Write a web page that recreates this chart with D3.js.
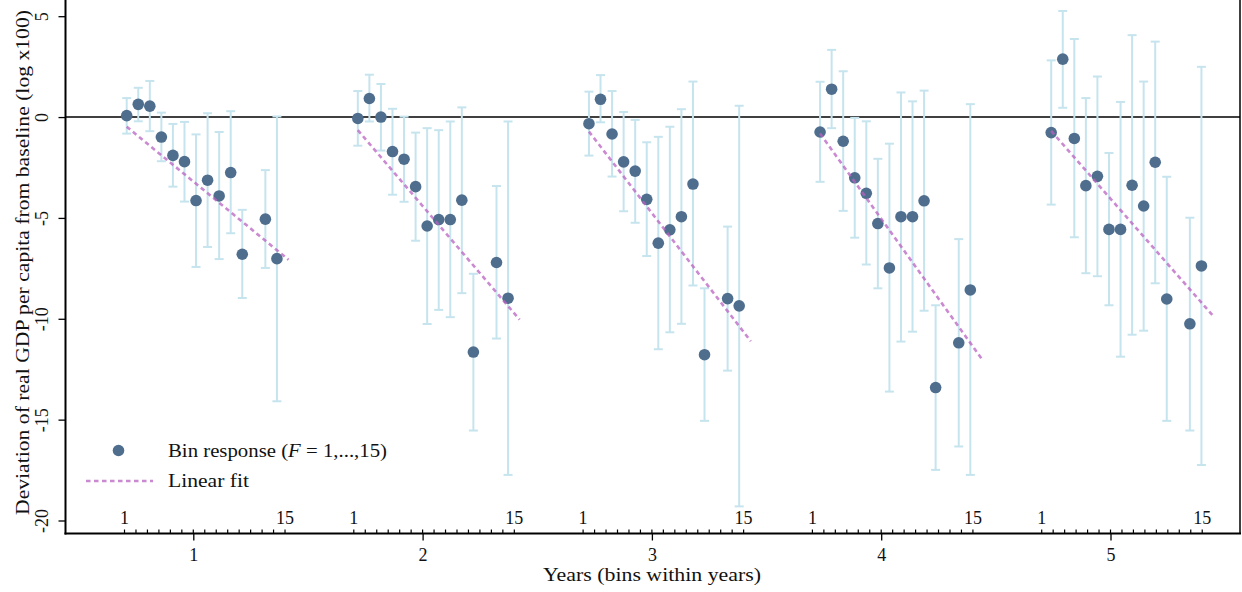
<!DOCTYPE html>
<html>
<head>
<meta charset="utf-8">
<script src="https://cdn.jsdelivr.net/npm/d3@7"></script>
<style>
  html, body { margin: 0; padding: 0; background: #fff; }
  svg { display: block; }
  text { font-family: 'Liberation Serif', 'DejaVu Serif', serif; fill: #111; }
</style>
</head>
<body>
<div id="chart"></div>
<script>
// ---------------- data ----------------
const years = [1, 2, 3, 4, 5];
const yearLabels = ["1", "2", "3", "4", "5"];
const bins = [1, 2, 3, 4, 5, 6, 7, 8, 9, 10, 11, 13, 14];
const binTickBins = d3.range(1, 16);
const binTickLabels = { 1: "1", 15: "15" };
const yTicks = [5, 0, -5, -10, -15, -20];

// point estimates per year (by bin)
const est1 = [0.07, 0.63, 0.54, -0.99, -1.90, -2.21, -4.14, -3.13, -3.91, -2.75, -6.80, -5.06, -7.02];
const est2 = [-0.07, 0.92, 0.00, -1.71, -2.09, -3.45, -5.40, -5.08, -5.08, -4.12, -11.65, -7.21, -8.98];
const est3 = [-0.33, 0.88, -0.84, -2.22, -2.68, -4.08, -6.25, -5.59, -4.94, -3.32, -11.78, -9.00, -9.36];
const est4 = [-0.74, 1.38, -1.20, -3.01, -3.78, -5.28, -7.48, -4.94, -4.94, -4.15, -13.41, -11.19, -8.57];
const est5 = [-0.77, 2.87, -1.06, -3.40, -2.94, -5.57, -5.57, -3.38, -4.41, -2.24, -9.02, -10.25, -7.38];

// upper confidence bounds
const hi1 = [0.94, 1.45, 1.79, 0.22, -0.34, -0.24, -0.86, 0.19, -0.74, 0.29, -4.60, -2.63, 0.03];
const hi2 = [1.29, 2.10, 1.64, 0.41, 0.02, -0.77, -0.55, -0.65, -0.22, 0.48, -7.77, -3.42, -0.22];
const hi3 = [1.26, 2.08, 1.29, 0.25, -0.14, -1.25, -0.98, -0.48, 0.39, 1.76, -8.49, -5.43, 0.56];
const hi4 = [1.75, 3.33, 2.27, -0.04, -0.21, -2.07, -1.32, 1.22, 0.78, 1.31, -9.33, -6.05, 0.64];
const hi5 = [2.81, 5.26, 3.87, 0.94, 2.01, -1.78, 0.75, 4.06, 1.76, 3.74, -2.96, -4.99, 2.49];

// lower confidence bounds
const lo1 = [-0.82, -0.21, -0.70, -2.19, -3.45, -4.19, -7.43, -6.44, -7.04, -5.76, -8.97, -7.48, -14.09];
const lo2 = [-1.42, -0.22, -1.66, -3.85, -4.20, -6.13, -10.26, -9.56, -9.92, -8.73, -15.54, -10.98, -17.74];
const lo3 = [-1.91, -0.26, -2.95, -4.67, -5.24, -6.89, -11.51, -10.67, -10.25, -8.35, -15.06, -12.57, -19.30];
const lo4 = [-3.21, -0.55, -4.65, -5.98, -7.31, -8.49, -13.61, -11.13, -10.64, -9.60, -17.49, -16.33, -17.74];
const lo5 = [-4.34, 0.46, -5.96, -7.74, -7.89, -9.33, -11.88, -10.79, -10.59, -8.24, -15.06, -15.54, -17.25];

// linear fit values at bin 1 and bin 15
const fitStart = [-0.48, -0.65, -0.72, -0.82, -0.69];
const fitEnd = [-7.07, -10.04, -11.11, -12.00, -9.85];

const estimates = [est1, est2, est3, est4, est5];
const uppers = [hi1, hi2, hi3, hi4, hi5];
const lowers = [lo1, lo2, lo3, lo4, lo5];

// ---------------- layout ----------------
const W = 1242, H = 592;
const plotL = 65.5, plotR = 1240, plotB = 533.5, plotT = 0;
const binsPerYear = 20;
const FS = 18;

const svg = d3.select("#chart").append("svg").attr("width", W).attr("height", H);

const yScale = d3.scaleLinear().domain([-20, 5]).range([520.5, 16.2]);
// position of points along x in "bin units": (year-1)*20 + bin
const xBin = d3.scaleLinear().domain([1, 81]).range([126.7, 1051.2]);
// year axis
const xYear = d3.scaleLinear().domain([1, 5]).range([193.3, 1110.5]);

const pts = [];
years.forEach((yr, gi) => {
  bins.forEach((b, i) => {
    pts.push({ u: (yr - 1) * binsPerYear + b, est: estimates[gi][i], hi: uppers[gi][i], lo: lowers[gi][i] });
  });
});

const ciColor = "#c6e4ee";
const ptColor = "#4f6e8e";
const fitColor = "#b862c0";

// zero line
svg.append("line")
  .attr("x1", plotL).attr("x2", plotR)
  .attr("y1", yScale(0)).attr("y2", yScale(0))
  .attr("stroke", "#000").attr("stroke-width", 1.6);

// CI bars
const ci = svg.append("g").attr("stroke", ciColor).attr("stroke-width", 2).attr("fill", "none");
ci.selectAll("line.v").data(pts).join("line").attr("class", "v")
  .attr("x1", d => xBin(d.u)).attr("x2", d => xBin(d.u))
  .attr("y1", d => yScale(d.hi)).attr("y2", d => yScale(d.lo));
ci.selectAll("line.ct").data(pts).join("line").attr("class", "ct")
  .attr("x1", d => xBin(d.u) - 4.5).attr("x2", d => xBin(d.u) + 4.5)
  .attr("y1", d => yScale(d.hi)).attr("y2", d => yScale(d.hi));
ci.selectAll("line.cb").data(pts).join("line").attr("class", "cb")
  .attr("x1", d => xBin(d.u) - 4.5).attr("x2", d => xBin(d.u) + 4.5)
  .attr("y1", d => yScale(d.lo)).attr("y2", d => yScale(d.lo));

// points
svg.append("g").selectAll("circle").data(pts).join("circle")
  .attr("cx", d => xBin(d.u)).attr("cy", d => yScale(d.est))
  .attr("r", 5.8).attr("fill", ptColor);

// linear fits (drawn on top, semi-transparent)
const fits = years.map((yr, gi) => ({
  x1: (yr - 1) * binsPerYear + 1, x2: (yr - 1) * binsPerYear + 15,
  y1: fitStart[gi], y2: fitEnd[gi]
}));
svg.append("g").selectAll("line").data(fits).join("line")
  .attr("x1", d => xBin(d.x1)).attr("x2", d => xBin(d.x2))
  .attr("y1", d => yScale(d.y1)).attr("y2", d => yScale(d.y2))
  .attr("stroke", fitColor).attr("stroke-opacity", 0.75)
  .attr("stroke-width", 2.6).attr("stroke-dasharray", "4.5,3.5");

// y axis
const yAxis = svg.append("g").attr("transform", `translate(${plotL},0)`)
  .call(d3.axisLeft(yScale).tickValues(yTicks).tickSize(7).tickFormat(d => String(d)));
yAxis.select(".domain").remove();
yAxis.selectAll(".tick line").attr("stroke", "#000").attr("stroke-width", 1.3);
yAxis.selectAll(".tick text")
  .attr("transform", "rotate(-90)")
  .attr("x", 0).attr("y", -17.5).attr("dy", 0)
  .attr("text-anchor", "middle")
  .style("font-family", "'Liberation Serif', serif")
  .style("font-size", FS + "px").attr("fill", "#111");

// x axis (years)
const xAxis = svg.append("g").attr("transform", `translate(0,${plotB})`)
  .call(d3.axisBottom(xYear).tickValues(years).tickSize(7).tickFormat((d, i) => yearLabels[i]));
xAxis.select(".domain").remove();
xAxis.selectAll(".tick line").attr("stroke", "#000").attr("stroke-width", 1.3);
xAxis.selectAll(".tick text")
  .attr("y", 27).attr("dy", 0)
  .style("font-family", "'Liberation Serif', serif")
  .style("font-size", FS + "px").attr("fill", "#111");

// bin ticks inside the plot
const binTicks = [];
years.forEach(yr => binTickBins.forEach(b => binTicks.push({ yr, b, v: yr + (b - 7) * 0.05 })));
svg.append("g").selectAll("line").data(binTicks).join("line")
  .attr("x1", d => xYear(d.v)).attr("x2", d => xYear(d.v))
  .attr("y1", plotB).attr("y2", plotB - 4)
  .attr("stroke", "#000").attr("stroke-width", 1.2);
svg.append("g").selectAll("text").data(binTicks.filter(d => binTickLabels[d.b])).join("text")
  .attr("x", d => xYear(d.v)).attr("y", 523.5)
  .attr("text-anchor", "middle").attr("font-size", FS)
  .text(d => binTickLabels[d.b]);

// frame lines
svg.append("line").attr("x1", plotL).attr("x2", plotL).attr("y1", plotT).attr("y2", plotB + 1)
  .attr("stroke", "#000").attr("stroke-width", 2);
svg.append("line").attr("x1", plotL - 1).attr("x2", plotR + 1).attr("y1", plotB).attr("y2", plotB)
  .attr("stroke", "#000").attr("stroke-width", 2);
svg.append("line").attr("x1", plotR).attr("x2", plotR).attr("y1", plotT).attr("y2", plotB)
  .attr("stroke", "#000").attr("stroke-width", 1.5);

// axis titles
svg.append("text")
  .attr("transform", `translate(28.5,${(10 + 515) / 2}) rotate(-90)`)
  .attr("text-anchor", "middle").attr("font-size", 18.5)
  .attr("textLength", 505).attr("lengthAdjust", "spacingAndGlyphs")
  .text("Deviation of real GDP per capita from baseline (log x100)");
svg.append("text")
  .attr("x", 652).attr("y", 581)
  .attr("text-anchor", "middle").attr("font-size", 18.5)
  .attr("textLength", 218).attr("lengthAdjust", "spacingAndGlyphs")
  .text("Years (bins within years)");

// legend
svg.append("circle").attr("cx", 118.5).attr("cy", 450.5).attr("r", 5.8).attr("fill", ptColor);
const lt = svg.append("text").attr("x", 168).attr("y", 457).attr("font-size", 18.5)
  .attr("textLength", 219).attr("lengthAdjust", "spacingAndGlyphs");
lt.append("tspan").text("Bin response (");
lt.append("tspan").attr("font-style", "italic").text("F");
lt.append("tspan").text(" = 1,...,15)");
svg.append("line").attr("x1", 86).attr("x2", 153).attr("y1", 481).attr("y2", 481)
  .attr("stroke", fitColor).attr("stroke-opacity", 0.75)
  .attr("stroke-width", 2.6).attr("stroke-dasharray", "4.5,3.5");
svg.append("text").attr("x", 168).attr("y", 487).attr("font-size", 18.5)
  .attr("textLength", 81).attr("lengthAdjust", "spacingAndGlyphs")
  .text("Linear fit");
</script>
</body>
</html>
